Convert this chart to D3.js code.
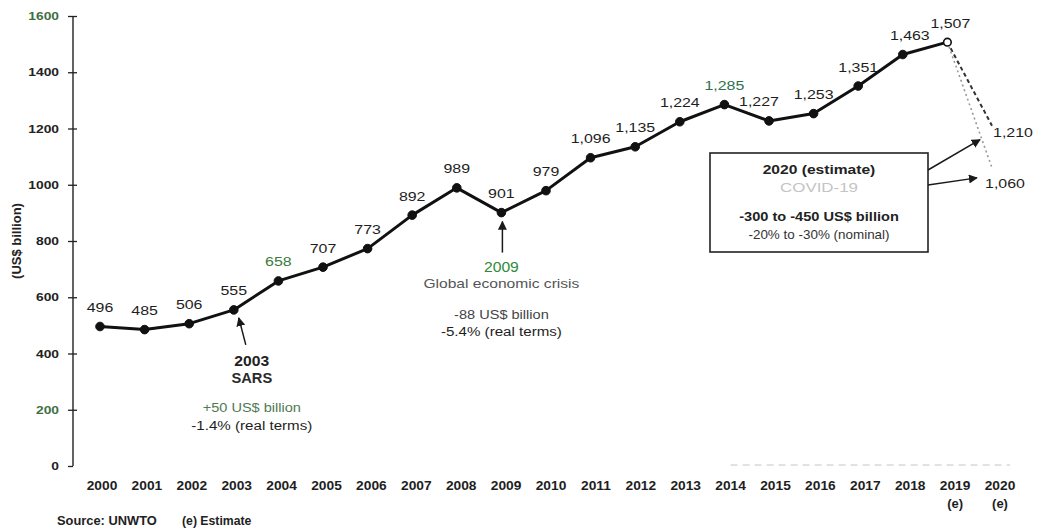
<!DOCTYPE html>
<html>
<head>
<meta charset="utf-8">
<script src="https://cdn.jsdelivr.net/npm/d3@7"></script>
<style>
  html, body { margin: 0; padding: 0; background: #fff; }
  svg { display: block; }
</style>
</head>
<body>
<svg id="chart" width="1039" height="530"></svg>
<script>
// ---- data ----
const years = [2000,2001,2002,2003,2004,2005,2006,2007,2008,2009,2010,2011,2012,2013,2014,2015,2016,2017,2018,2019];
const receipts = [496,485,506,555,658,707,773,892,989,901,979,1096,1135,1224,1285,1227,1253,1351,1463,1507];
const estYear = 2020;
const estHigh = 1210;
const estLow = 1060;
const yTicks = [0,200,400,600,800,1000,1200,1400,1600];
const yearLabels = ["2000","2001","2002","2003","2004","2005","2006","2007","2008","2009","2010","2011","2012","2013","2014","2015","2016","2017","2018","2019","2020"];
const estimateYears = ["2019","2020"];

const FONT = "'Liberation Sans', Arial, sans-serif";
const SX = 1.18;

const svg = d3.select("#chart");
const x = d3.scaleLinear().domain([2000, 2020]).range([100, 992]);
const xl = d3.scalePoint().domain(yearLabels).range([102, 1000]);
const y = d3.scaleLinear().domain([0, 1600]).range([466, 16]);

const fmt = d3.format(",");

function txt(sel, px, py, s, o) {
  o = o || {};
  return sel.append("text")
    .attr("transform", `translate(${px},${py}) scale(${o.sx || SX},1)`)
    .attr("text-anchor", o.anchor || "middle")
    .style("font-family", o.family || FONT)
    .style("font-size", (o.size || 13) + "px")
    .style("font-weight", o.weight || "normal")
    .attr("fill", o.fill || "#222")
    .text(s);
}

// arrow marker
const defs = svg.append("defs");
defs.append("marker").attr("id", "ah").attr("viewBox", "0 0 10 10")
  .attr("refX", 9).attr("refY", 5).attr("markerWidth", 9).attr("markerHeight", 9)
  .attr("markerUnits", "userSpaceOnUse").attr("orient", "auto")
  .append("path").attr("d", "M0,0 L10,5 L0,10 Z").attr("fill", "#1a1a1a");

// ---- y axis ----
const AX = 73;
const axisG = svg.append("g").attr("transform", `translate(${AX},0)`)
  .call(d3.axisLeft(y).tickValues(yTicks).tickSize(5).tickFormat(""));
axisG.select(".domain").remove();
axisG.selectAll(".tick line").attr("stroke", "#222").attr("stroke-width", 1.3);
axisG.selectAll(".tick").filter(d => d > 0).append("line")
  .attr("x1", 0).attr("x2", 4).attr("stroke", "#222").attr("stroke-width", 1.3);
svg.append("line").attr("x1", AX).attr("x2", AX).attr("y1", y(1600)).attr("y2", y(0))
  .attr("stroke", "#222").attr("stroke-width", 1.4);

yTicks.forEach(t => {
  const col = (t === 1600 || t === 200) ? "#3f6f3f" : "#222";
  txt(svg, 59, y(t) + 4, String(t), {anchor: "end", size: 11.5, weight: "bold", fill: col, sx: 1.2});
});

// y title
svg.append("text")
  .attr("transform", `translate(21,${(y(600)+y(1000))/2}) rotate(-90)`)
  .attr("text-anchor", "middle")
  .style("font-family", FONT).style("font-size", "13px").style("font-weight", "bold")
  .attr("fill", "#222").text("(US$ billion)");

// ---- x labels ----
yearLabels.forEach(lab => {
  txt(svg, xl(lab), 490, lab, {size: 13.5, weight: "bold", fill: "#1e1e1e", sx: 1.02});
  if (estimateYears.includes(lab)) {
    txt(svg, xl(lab), 508, "(e)", {size: 13, weight: "bold", fill: "#1e1e1e", sx: 1.0});
  }
});

// faint scanned gridline remnant near baseline
svg.append("line").attr("x1", xl("2014")).attr("x2", xl("2020") + 10)
  .attr("y1", y(0) - 1).attr("y2", y(0) - 1)
  .attr("stroke", "#c4c4c4").attr("stroke-width", 1).attr("stroke-dasharray", "7,5");

// source
txt(svg, 57, 525, "Source: UNWTO", {anchor: "start", size: 12.5, weight: "bold", sx: 1.03});
txt(svg, 182, 525, "(e) Estimate", {anchor: "start", size: 12.5, weight: "bold", sx: 0.98});

// ---- estimate dashed lines ----
const last = receipts.length - 1;
svg.append("line")
  .attr("x1", x(years[last])).attr("y1", y(receipts[last]))
  .attr("x2", x(estYear)).attr("y2", y(estHigh))
  .attr("stroke", "#333").attr("stroke-width", 2).attr("stroke-dasharray", "4,3");
svg.append("line")
  .attr("x1", x(years[last])).attr("y1", y(receipts[last]))
  .attr("x2", x(estYear)).attr("y2", y(estLow))
  .attr("stroke", "#999").attr("stroke-width", 1.6).attr("stroke-dasharray", "2,3");

// ---- main line ----
const pts = years.map((yr, i) => ({year: yr, value: receipts[i]}));
svg.append("path").datum(pts)
  .attr("d", d3.line().x(d => x(d.year)).y(d => y(d.value)))
  .attr("fill", "none").attr("stroke", "#111").attr("stroke-width", 3).attr("stroke-linejoin", "round");

svg.selectAll("circle.pt").data(pts).enter().append("circle")
  .attr("class", "pt")
  .attr("cx", d => x(d.year)).attr("cy", d => y(d.value))
  .attr("r", d => d.year === 2019 ? 3.8 : 4.3)
  .attr("fill", d => d.year === 2019 ? "#fff" : "#111")
  .attr("stroke", "#111").attr("stroke-width", d => d.year === 2019 ? 1.6 : 1);

// value labels
const dxOff = {2015: -10, 2018: 7, 2019: 3};
const greenLab = {2004: "#3d7a3d", 2014: "#2f6f4f"};
pts.forEach(d => {
  txt(svg, x(d.year) + (dxOff[d.year] || 0), y(d.value) - 14.5, fmt(d.value),
      {size: 13.5, fill: greenLab[d.year] || "#1e1e1e"});
});
txt(svg, x(estYear) + 21, y(estHigh) + 11, fmt(estHigh), {size: 13.5, fill: "#1e1e1e"});
txt(svg, x(estYear) + 13, y(estLow) + 20, fmt(estLow), {size: 13.5, fill: "#1e1e1e"});

// ---- SARS annotation ----
{
  const px = x(2003), py = y(555);
  svg.append("line").attr("x1", px + 12).attr("y1", py + 35).attr("x2", px + 5).attr("y2", py + 8)
    .attr("stroke", "#1a1a1a").attr("stroke-width", 1.5).attr("marker-end", "url(#ah)");
  const cx = px + 18;
  txt(svg, cx, 366, "2003", {size: 14, weight: "bold", sx: 1.12});
  txt(svg, cx, 383, "SARS", {size: 14, weight: "bold", sx: 1.05, fill: "#2a2a2a"});
  txt(svg, cx, 412, "+50 US$ billion", {size: 13, fill: "#4f7a52", sx: 1.12});
  txt(svg, cx, 430, "-1.4% (real terms)", {size: 13.5, fill: "#1e1e1e", sx: 1.12});
}

// ---- 2009 annotation ----
{
  const px = x(2009), py = y(901);
  svg.append("line").attr("x1", px + 1).attr("y1", py + 40).attr("x2", px + 1).attr("y2", py + 9)
    .attr("stroke", "#1a1a1a").attr("stroke-width", 1.5).attr("marker-end", "url(#ah)");
  const cx = px;
  txt(svg, cx, 272, "2009", {size: 14, fill: "#2f8a3a", sx: 1.12});
  txt(svg, cx, 288, "Global economic crisis", {size: 13, fill: "#555", sx: 1.2});
  txt(svg, cx, 319, "-88 US$ billion", {size: 13, fill: "#444", sx: 1.12});
  txt(svg, cx, 336, "-5.4% (real terms)", {size: 13.5, fill: "#1e1e1e", sx: 1.12});
}

// ---- COVID box ----
{
  const bx = 710, by = 153, bw = 218, bh = 99;
  svg.append("rect").attr("x", bx).attr("y", by).attr("width", bw).attr("height", bh)
    .attr("fill", "#fff").attr("stroke", "#222").attr("stroke-width", 1.6);
  const cx = bx + bw / 2;
  txt(svg, cx, 174, "2020 (estimate)", {size: 13, weight: "bold", sx: 1.2});
  txt(svg, cx, 192, "COVID-19", {size: 13.5, fill: "#c4c4c4", sx: 1.25});
  txt(svg, cx, 221, "-300 to -450 US$ billion", {size: 13.5, weight: "bold", sx: 1.08});
  txt(svg, cx, 239, "-20% to -30% (nominal)", {size: 12, fill: "#333", sx: 1.12});
  svg.append("line").attr("x1", bx + bw).attr("y1", 170).attr("x2", x(estYear) - 12).attr("y2", y(estHigh) + 14)
    .attr("stroke", "#1a1a1a").attr("stroke-width", 1.5).attr("marker-end", "url(#ah)");
  svg.append("line").attr("x1", bx + bw).attr("y1", 185).attr("x2", x(estYear) - 15).attr("y2", y(estLow) + 10)
    .attr("stroke", "#1a1a1a").attr("stroke-width", 1.5).attr("marker-end", "url(#ah)");
}
</script>
</body>
</html>
